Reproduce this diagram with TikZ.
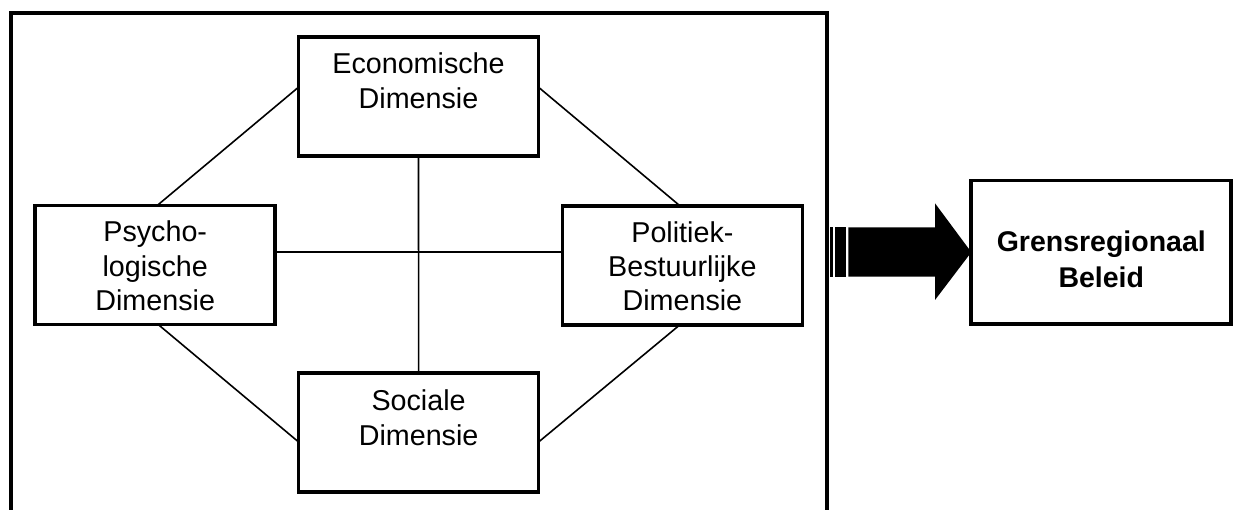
\documentclass[tikz,border=0pt]{standalone}
\usepackage{fontspec}
\setmainfont{Liberation Sans}
\usetikzlibrary{calc}
\tikzset{
  dimbox/.style={draw=black, line width=3.7pt, minimum width=240pt, minimum height=119pt, inner sep=0pt, outer sep=0pt},
  dimtext/.style={align=center, inner sep=0pt, outer sep=0pt, anchor=base, font=\fontsize{28.7}{34.3}\selectfont},
  boldtext/.style={align=center, inner sep=0pt, outer sep=0pt, anchor=base, font=\fontsize{28.5}{35.5}\selectfont\bfseries},
  conn/.style={draw=black, line width=1.6pt},
  frameline/.style={draw=black, line width=4.2pt},
}
\begin{document}
\begin{tikzpicture}[x=1pt,y=-1pt]
\useasboundingbox (0,0) rectangle (1233,510);
\clip (0,0) rectangle (1233,510);
\fill[white] (0,0) rectangle (1233,510);
% outer frame (open at bottom of picture)
\draw[frameline] (11.3,530) -- (11.3,13) -- (827,13) -- (827,530);
% boxes
\node[dimbox] (eco) at (418.5,96.2) {};
\node[dimbox] (psy) at (155.2,265) {};
\node[dimbox] (pol) at (682.4,265.3) {};
\node[dimbox] (soc) at (418.6,432.2) {};
\node[dimbox, minimum width=260pt, minimum height=143.3pt] (gren) at (1101.3,252.2) {};
% texts (base anchor = last line baseline)
\node[dimtext] (ecot) at ([yshift=-71.5pt]eco.north) {Economische\\Dimensie};
\node[dimtext] (psyt) at ([yshift=-105.1pt]psy.north) {Psycho-\\logische\\Dimensie};
\node[dimtext] (polt) at ([yshift=-105.1pt]pol.north) {Politiek-\\Bestuurlijke\\Dimensie};
\node[dimtext] (soct) at ([yshift=-72.3pt]soc.north) {Sociale\\Dimensie};
\node[boldtext] (grent) at ([yshift=-106.7pt]gren.north) {Grensregionaal\\Beleid};
% connectors
\draw[conn] ([yshift=9pt]eco.west) -- ([xshift=2pt]psy.north);
\draw[conn] ([yshift=9pt]eco.east) -- ([xshift=-2.5pt]pol.north);
\draw[conn] ([xshift=3pt]psy.south) -- ([yshift=-9.8pt]soc.west);
\draw[conn] ([yshift=-9.8pt]soc.east) -- ([xshift=-2.5pt]pol.south);
\draw[conn] (eco.south) -- (soc.north);
\draw[conn] ([yshift=13pt]psy.east) -- ([yshift=13.3pt]pol.west);
% big arrow
\fill[black] (830,227.3) rectangle (833.3,276.7);
\fill[black] (835,227.3) rectangle (845.7,276.7);
\fill[black] (848.3,227.3) -- (935,227.3) -- (935,203.3) -- (gren.west) -- (935,300) -- (935,276.7) -- (848.3,276.7) -- cycle;
\end{tikzpicture}
\end{document}
